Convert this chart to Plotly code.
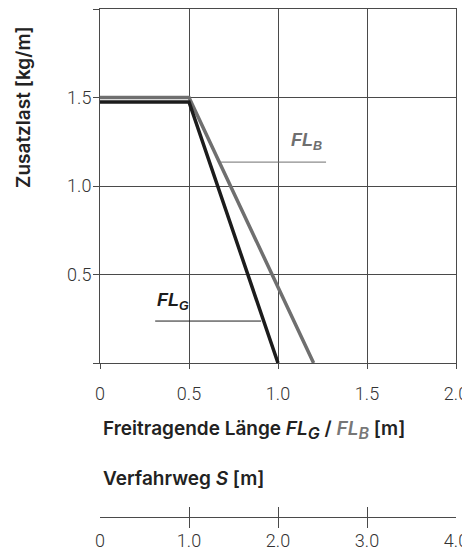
import plotly.graph_objects as go

# Data
fl_g_x = [0.0, 0.5, 1.0]
fl_g_y = [1.475, 1.475, 0.0]
fl_b_x = [0.0, 0.5, 1.2]
fl_b_y = [1.5, 1.5, 0.0]

leader_g_x = [0.31, 0.905]
leader_g_y = [0.237, 0.237]
leader_b_x = [0.68, 1.27]
leader_b_y = [1.135, 1.135]

x_ticks = [0, 0.5, 1.0, 1.5, 2.0]
x_ticktext = ["0", "0.5", "1.0", "1.5", "2.0"]
y_ticks = [0, 0.5, 1.0, 1.5, 2.0]
y_ticktext = [" ", "0.5", "1.0", "1.5", "2.0"]
s_ticks = [0, 1, 2, 3, 4]
s_ticktext = ["0", "1.0", "2.0", "3.0", "4.0"]

BLACK = "#1c1c1c"
GRAY = "#6f6f6f"
GRID = "#4a4a4a"
TICKFONT = dict(family="Roboto, Liberation Sans, Arial", size=18, color="#333333", weight=300)
TITLEFONT = dict(family="Inter, Liberation Sans, Arial", size=19, color="#222222", weight=600)

# The page body has an 8px margin; work in page pixels and convert.
OFF = 8
W, H = 470 - OFF, 553 - OFF
ml, mr, mt, mb = 92, 14, 1, 25
plot_w = W - ml - mr
plot_h = H - mt - mb


def py(page_px):
    return (H - mb - (page_px - OFF)) / plot_h


def pxx(page_px):
    return ((page_px - OFF) - ml) / plot_w


fig = go.Figure()
fig.add_trace(go.Scatter(x=fl_b_x, y=fl_b_y, mode="lines",
                         line=dict(color=GRAY, width=3.5), xaxis="x", yaxis="y",
                         showlegend=False, hoverinfo="skip"))
fig.add_trace(go.Scatter(x=fl_g_x, y=fl_g_y, mode="lines",
                         line=dict(color=BLACK, width=3.5), xaxis="x", yaxis="y",
                         showlegend=False, hoverinfo="skip"))
fig.add_trace(go.Scatter(x=leader_g_x, y=leader_g_y, mode="lines",
                         line=dict(color=BLACK, width=1), showlegend=False, hoverinfo="skip"))
fig.add_trace(go.Scatter(x=leader_b_x, y=leader_b_y, mode="lines",
                         line=dict(color=GRAY, width=1), showlegend=False, hoverinfo="skip"))
fig.add_trace(go.Scatter(x=[0, 4], y=[0, 0], mode="lines", line=dict(color=GRID, width=1),
                         xaxis="x2", yaxis="y2", showlegend=False, hoverinfo="skip"))

y_main_dom0 = py(363)
y2_top = py(507)

SUB = "<sub><span style='font-size:16px'>{}</span></sub>"

fig.update_layout(
    width=W, height=H,
    margin=dict(l=ml, r=mr, t=mt, b=mb, autoexpand=False),
    paper_bgcolor="white", plot_bgcolor="white",
    template="none",
    xaxis=dict(domain=[0, 1], range=[0, 2], anchor="y",
               tickvals=x_ticks, ticktext=x_ticktext, ticks="outside", ticklen=5,
               tickcolor=GRID, tickwidth=1,
               showgrid=True, gridcolor=GRID, gridwidth=1, zeroline=False,
               showline=True, linecolor=GRID, linewidth=1, mirror=True,
               tickfont=TICKFONT, ticklabelstandoff=9, ticklabeloverflow="allow",
               automargin=False, fixedrange=True),
    yaxis=dict(domain=[y_main_dom0, 1], range=[0, 2], anchor="x",
               tickvals=y_ticks, ticktext=y_ticktext, ticks="outside", ticklen=6,
               tickcolor=GRID, tickwidth=1,
               showgrid=True, gridcolor=GRID, gridwidth=1, zeroline=False,
               showline=True, linecolor=GRID, linewidth=1, mirror=True,
               tickfont=TICKFONT, ticklabelstandoff=-2, automargin=False, fixedrange=True),
    xaxis2=dict(domain=[0, 1], range=[0, 4], anchor="y2",
                tickvals=s_ticks, ticktext=s_ticktext, ticks="",
                showgrid=True, gridcolor=GRID, gridwidth=1, zeroline=False,
                showline=False, tickfont=TICKFONT, ticklabelstandoff=0,
                ticklabeloverflow="allow", automargin=False, fixedrange=True),
    yaxis2=dict(domain=[0, y2_top], range=[-1, 1], anchor="x2",
                showticklabels=False, showgrid=False, zeroline=False,
                showline=False, ticks="", automargin=False, fixedrange=True),
    annotations=[
        dict(text="Zusatzlast [kg/m]", xref="paper", yref="paper",
             x=pxx(23), y=py(107), textangle=-90, showarrow=False,
             xanchor="center", yanchor="middle", font=TITLEFONT),
        dict(text="Freitragende Länge <i>FL" + SUB.format("G") + "</i>&nbsp;/&nbsp;"
                  "<span style='color:#777777'><i>FL" + SUB.format("B") + "</i></span>&nbsp;[m]",
             xref="paper", yref="paper", x=pxx(101), y=py(430), showarrow=False,
             xanchor="left", yanchor="middle", font=TITLEFONT),
        dict(text="Verfahrweg <i>S</i> [m]",
             xref="paper", yref="paper", x=pxx(101), y=py(478), showarrow=False,
             xanchor="left", yanchor="middle", font=TITLEFONT),
        dict(text="<b><i>FL<sub>G</sub></i></b>", xref="x", yref="y",
             x=0.31, y=0.35, showarrow=False, xanchor="left", yanchor="middle",
             font=dict(family="Liberation Sans, Arial", size=18, color=BLACK)),
        dict(text="<b><i>FL<sub>B</sub></i></b>", xref="x", yref="y",
             x=1.06, y=1.25, showarrow=False, xanchor="left", yanchor="middle",
             font=dict(family="Liberation Sans, Arial", size=18, color=GRAY)),
    ],
)

fig.write_html("out.html")
